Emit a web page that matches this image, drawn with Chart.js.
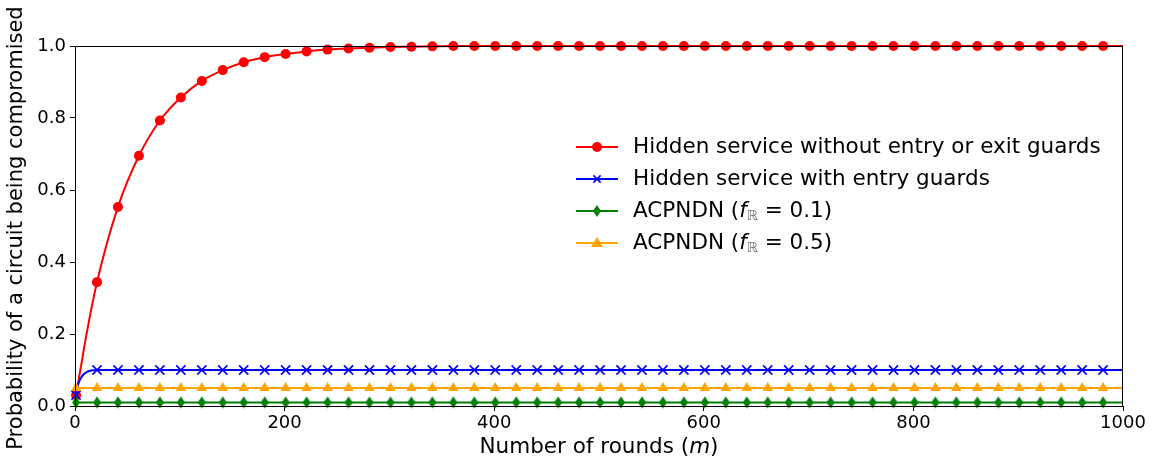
<!DOCTYPE html>
<html lang="en">
<head>
    <meta charset="UTF-8">
    <title>Circuit compromise probability</title>
    <style>
        html, body { margin: 0; padding: 0; background: #fff; }
        .wrap { width: 1169px; height: 466px; }
    </style>
    <script src="https://cdn.jsdelivr.net/npm/chart.js"></script>
</head>
<body>
    <div class="wrap"><canvas id="chart" width="1169" height="466"></canvas></div>
<script>
    // rounds (m) at which values were read; markers sit every 20 rounds from m = 1
    const rounds = [1, 3, 6, 11, 21, 41, 61, 81, 101, 121, 141, 161, 181, 201, 221, 241, 261, 281,
        301, 321, 341, 361, 381, 401, 421, 441, 461, 481, 501, 521, 541, 561, 581, 601, 621, 641,
        661, 681, 701, 721, 741, 761, 781, 801, 821, 841, 861, 881, 901, 921, 941, 961, 981, 1000];

    const noGuards = [0.03, 0.065, 0.115, 0.20, 0.344, 0.553, 0.695, 0.793, 0.857, 0.903, 0.933,
        0.955, 0.969, 0.978, 0.985, 0.99, 0.993, 0.995, 0.997, 0.998, 0.999, 1, 1, 1, 1, 1, 1, 1,
        1, 1, 1, 1, 1, 1, 1, 1, 1, 1, 1, 1, 1, 1, 1, 1, 1, 1, 1, 1, 1, 1, 1, 1, 1, 1];
    const entryGuards = [0.03, 0.06, 0.08, 0.094, 0.1, 0.1, 0.1, 0.1, 0.1, 0.1, 0.1, 0.1, 0.1,
        0.1, 0.1, 0.1, 0.1, 0.1, 0.1, 0.1, 0.1, 0.1, 0.1, 0.1, 0.1, 0.1, 0.1, 0.1, 0.1, 0.1, 0.1,
        0.1, 0.1, 0.1, 0.1, 0.1, 0.1, 0.1, 0.1, 0.1, 0.1, 0.1, 0.1, 0.1, 0.1, 0.1, 0.1, 0.1, 0.1,
        0.1, 0.1, 0.1, 0.1, 0.1];
    const acpndn01 = [0.01, 0.01, 0.01, 0.01, 0.01, 0.01, 0.01, 0.01, 0.01, 0.01, 0.01, 0.01,
        0.01, 0.01, 0.01, 0.01, 0.01, 0.01, 0.01, 0.01, 0.01, 0.01, 0.01, 0.01, 0.01, 0.01, 0.01,
        0.01, 0.01, 0.01, 0.01, 0.01, 0.01, 0.01, 0.01, 0.01, 0.01, 0.01, 0.01, 0.01, 0.01, 0.01,
        0.01, 0.01, 0.01, 0.01, 0.01, 0.01, 0.01, 0.01, 0.01, 0.01, 0.01, 0.01];
    const acpndn05 = [0.05, 0.05, 0.05, 0.05, 0.05, 0.05, 0.05, 0.05, 0.05, 0.05, 0.05, 0.05,
        0.05, 0.05, 0.05, 0.05, 0.05, 0.05, 0.05, 0.05, 0.05, 0.05, 0.05, 0.05, 0.05, 0.05, 0.05,
        0.05, 0.05, 0.05, 0.05, 0.05, 0.05, 0.05, 0.05, 0.05, 0.05, 0.05, 0.05, 0.05, 0.05, 0.05,
        0.05, 0.05, 0.05, 0.05, 0.05, 0.05, 0.05, 0.05, 0.05, 0.05, 0.05, 0.05];

    const xTicks = [0, 200, 400, 600, 800, 1000];
    const yTicks = [0.0, 0.2, 0.4, 0.6, 0.8, 1.0];

    const FONT = "'DejaVu Sans', sans-serif";

    // thin diamond marker (matplotlib 'd')
    function thinDiamond(color) {
        const c = document.createElement('canvas');
        c.width = 10; c.height = 14;
        const g = c.getContext('2d');
        g.fillStyle = color;
        g.beginPath();
        g.moveTo(5, 1); g.lineTo(9, 7); g.lineTo(5, 13); g.lineTo(1, 7);
        g.closePath();
        g.fill();
        return c;
    }
    const diamondImg = thinDiamond('#008000');

    const series = [
        { label: 'Hidden service without entry or exit guards', values: noGuards, color: '#ff0000', style: 'circle', radius: 5 },
        { label: 'Hidden service with entry guards', values: entryGuards, color: '#0000ff', style: 'crossRot', radius: 6.5 },
        { label: 'ACPNDN', sub: '0.1', values: acpndn01, color: '#008000', style: diamondImg, radius: 5 },
        { label: 'ACPNDN', sub: '0.5', values: acpndn05, color: '#ffa500', style: 'triangle', radius: 6 }
    ];

    const showMarker = (ctx, r) => ((rounds[ctx.dataIndex] - 1) % 20 === 0 ? r : 0);

    // matplotlib plots red first, so red sits under the rest
    const datasets = series.map((s, k) => ({
        label: s.label,
        data: rounds.map((m, i) => ({ x: m, y: s.values[i] })),
        borderColor: s.color,
        backgroundColor: s.color,
        borderWidth: 2,
        pointStyle: s.style,
        pointRadius: ctx => showMarker(ctx, s.radius),
        pointBorderWidth: s.style === 'crossRot' ? 1.6 : 0,
        pointBorderColor: s.color,
        pointBackgroundColor: s.color,
        cubicInterpolationMode: 'monotone',
        clip: 8,
        order: series.length - k
    }));

    function drawMarker(ctx, s, x, y) {
        ctx.save();
        ctx.fillStyle = s.color;
        ctx.strokeStyle = s.color;
        if (s.style === 'circle') {
            ctx.beginPath(); ctx.arc(x, y, s.radius, 0, Math.PI * 2); ctx.fill();
        } else if (s.style === 'crossRot') {
            const r = 3.6;
            ctx.lineWidth = 1.6;
            ctx.beginPath();
            ctx.moveTo(x - r, y - r); ctx.lineTo(x + r, y + r);
            ctx.moveTo(x + r, y - r); ctx.lineTo(x - r, y + r);
            ctx.stroke();
        } else if (s.style === 'triangle') {
            ctx.beginPath();
            ctx.moveTo(x, y - 6); ctx.lineTo(x + 6, y + 4); ctx.lineTo(x - 6, y + 4);
            ctx.closePath(); ctx.fill();
        } else {
            ctx.drawImage(s.style, x - 5, y - 7);
        }
        ctx.restore();
    }

    const decorations = {
        id: 'decorations',
        afterDatasetsDraw(chart) {
            const { ctx, chartArea: a } = chart;
            ctx.save();
            ctx.strokeStyle = '#000';
            ctx.lineWidth = 1;
            ctx.strokeRect(a.left + 0.5, a.top + 0.5, a.right - a.left - 1, a.bottom - a.top);
            ctx.restore();
        },
        afterDraw(chart) {
            const { ctx, chartArea: a } = chart;
            ctx.save();
            ctx.fillStyle = '#000';
            ctx.textBaseline = 'middle';

            // x axis title with italic m
            const size = 21.5;
            const up = size + 'px ' + FONT;
            const it = 'italic ' + size + 'px ' + FONT;
            const parts = [['Number of rounds (', up], ['m', it], [')', up]];
            let total = 0;
            parts.forEach(p => { ctx.font = p[1]; total += ctx.measureText(p[0]).width; });
            let x = (a.left + a.right) / 2 - total / 2;
            parts.forEach(p => { ctx.font = p[1]; ctx.fillText(p[0], x, 447); x += ctx.measureText(p[0]).width; });

            // y axis title
            ctx.save();
            ctx.translate(17, (a.top + a.bottom) / 2 + 2);
            ctx.rotate(-Math.PI / 2);
            ctx.font = '21px ' + FONT;
            ctx.textAlign = 'center';
            ctx.fillText('Probability of a circuit being compromised', 0, 0);
            ctx.restore();

            // legend
            const lx = a.left + 501;
            const lsize = 21.5;
            const lfont = lsize + 'px ' + FONT;
            series.forEach((s, i) => {
                const y = 147 + i * 32;
                ctx.strokeStyle = s.color;
                ctx.lineWidth = 2;
                ctx.beginPath(); ctx.moveTo(lx, y); ctx.lineTo(lx + 42, y); ctx.stroke();
                drawMarker(ctx, s, lx + 21, y);
                ctx.fillStyle = '#000';
                let tx = lx + 57;
                ctx.font = lfont;
                if (!s.sub) {
                    ctx.fillText(s.label, tx, y);
                    return;
                }
                const bits = [
                    [s.label + ' (', lfont, 0, '#000'],
                    ['f', 'italic ' + lfont, 0, '#000'],
                    ['\u211D', '14px ' + FONT, 5, '#777'],
                    [' = ' + s.sub + ')', lfont, 0, '#000']
                ];
                bits.forEach(b => {
                    ctx.font = b[1];
                    ctx.fillStyle = b[3];
                    ctx.fillText(b[0], tx, y + b[2]);
                    tx += ctx.measureText(b[0]).width;
                });
            });
            ctx.restore();
        }
    };

    new Chart(document.getElementById('chart'), {
        type: 'line',
        data: { datasets },
        options: {
            responsive: false,
            animation: false,
            layout: { padding: { top: 46, right: 46, left: 0, bottom: 0 } },
            plugins: { legend: { display: false }, tooltip: { enabled: false } },
            scales: {
                x: {
                    type: 'linear',
                    min: 0, max: 1000,
                    afterBuildTicks: axis => { axis.ticks = xTicks.map(v => ({ value: v })); },
                    afterFit: axis => { axis.height = 60; },
                    ticks: { color: '#000', font: { family: FONT, size: 18 }, padding: 2, maxRotation: 0, callback: v => String(v) },
                    grid: { drawOnChartArea: false, tickLength: 5, color: '#000' },
                    border: { color: '#000' }
                },
                y: {
                    min: 0, max: 1,
                    afterBuildTicks: axis => { axis.ticks = yTicks.map(v => ({ value: v })); },
                    afterFit: axis => { axis.width = 75; },
                    ticks: { color: '#000', font: { family: FONT, size: 18 }, padding: 4, callback: v => v.toFixed(1) },
                    grid: { drawOnChartArea: false, tickLength: 5, color: '#000' },
                    border: { color: '#000' }
                }
            }
        },
        plugins: [decorations]
    });
</script>
</body>
</html>
